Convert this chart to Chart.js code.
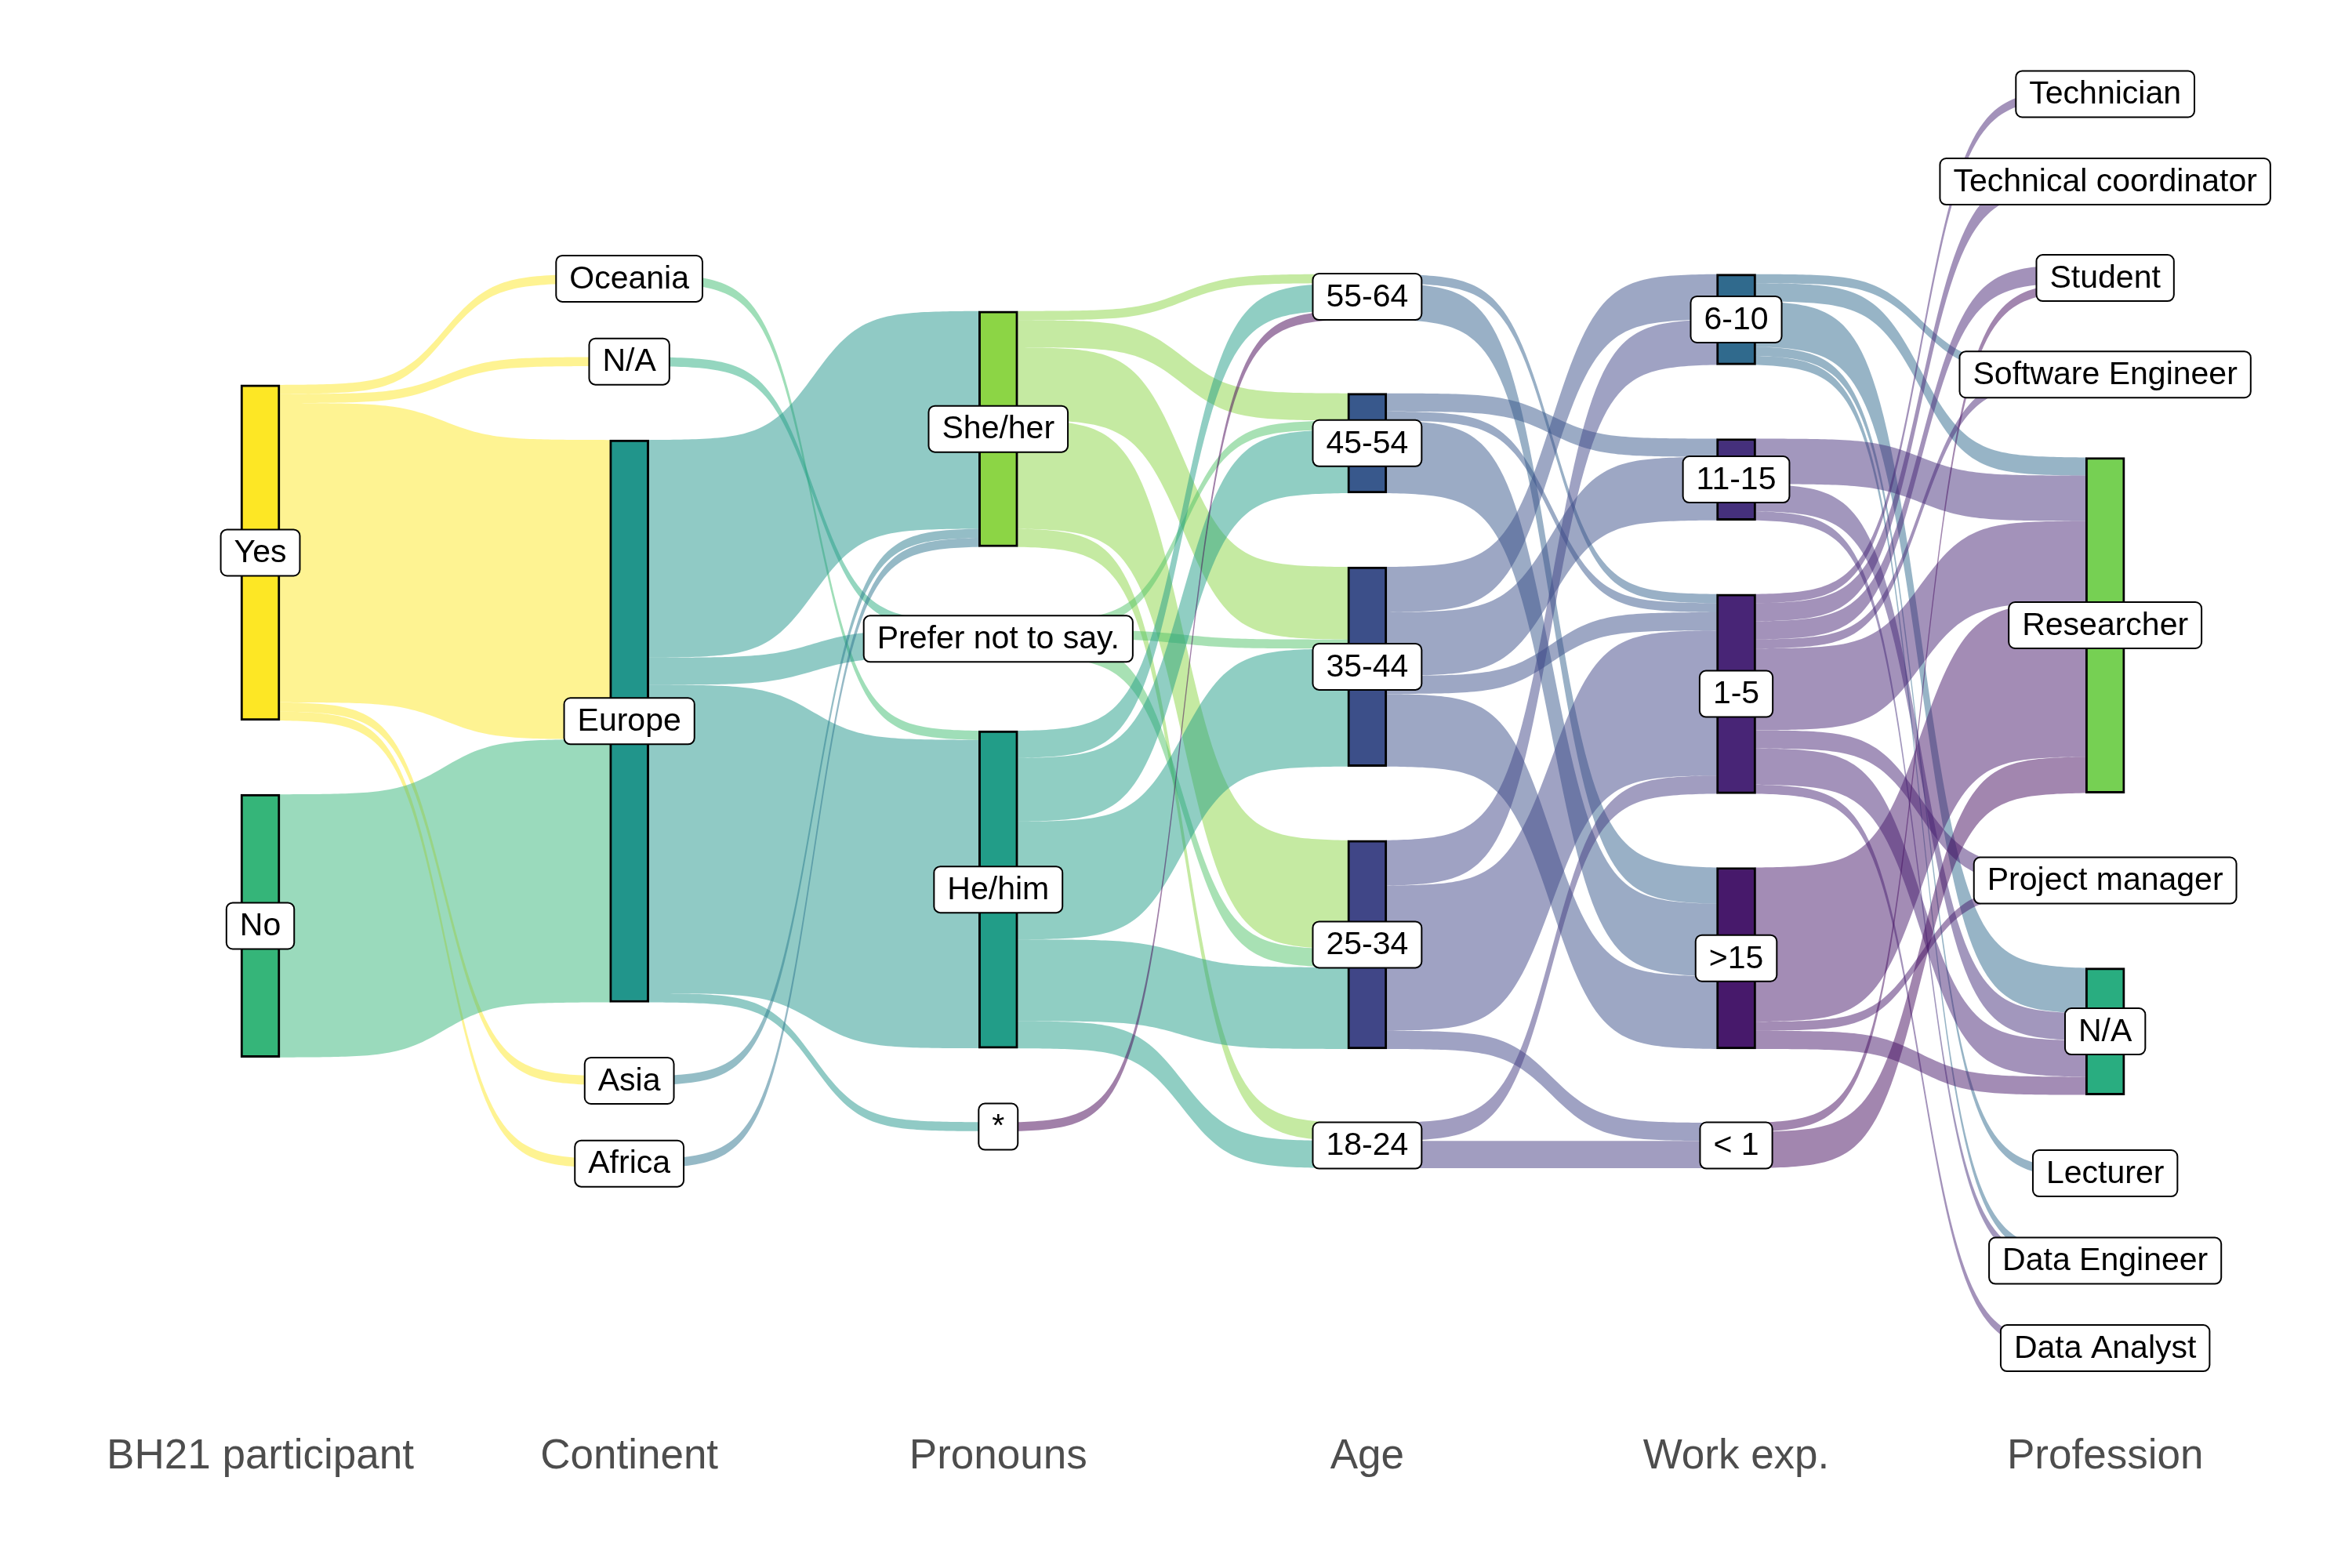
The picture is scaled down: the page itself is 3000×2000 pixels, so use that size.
<!DOCTYPE html>
<html>
<head>
<meta charset="utf-8">
<title>BH21 sankey</title>
<script src="https://cdn.jsdelivr.net/npm/chart.js@4.4.1/dist/chart.umd.min.js"></script>
<style>
    html, body { margin: 0; padding: 0; background: #fff; }
    #wrap { width: 3000px; height: 2000px; }
</style>
</head>
<body>
<div id="wrap"><canvas id="sankey"></canvas></div>
<script>
const axisNames = ["BH21 participant", "Continent", "Pronouns", "Age", "Work exp.", "Profession"];

// nodes of each axis, top to bottom
const participantNodes = ["Yes", "No"];
const continentNodes = ["Oceania", "N/A", "Europe", "Asia", "Africa"];
const pronounNodes = ["She/her", "Prefer not to say.", "He/him", "*"];
const ageNodes = ["55-64", "45-54", "35-44", "25-34", "18-24"];
const workNodes = ["6-10", "11-15", "1-5", ">15", "< 1"];
const professionNodes = ["Technician", "Technical coordinator", "Student", "Software Engineer", "Researcher",
    "Project manager", "N/A", "Lecturer", "Data Engineer", "Data Analyst"];

// people moving from one axis to the next: [from, to, count]
const participantToContinent = [
    ["Yes", "Oceania", 1], ["Yes", "N/A", 1], ["Yes", "Europe", 33], ["Yes", "Asia", 1], ["Yes", "Africa", 1],
    ["No", "Europe", 29]
];
const continentToPronouns = [
    ["Oceania", "He/him", 1],
    ["N/A", "Prefer not to say.", 1],
    ["Europe", "She/her", 24], ["Europe", "Prefer not to say.", 3], ["Europe", "He/him", 34], ["Europe", "*", 1],
    ["Asia", "She/her", 1],
    ["Africa", "She/her", 1]
];
const pronounsToAge = [
    ["She/her", "55-64", 1], ["She/her", "45-54", 3], ["She/her", "35-44", 8], ["She/her", "25-34", 12], ["She/her", "18-24", 2],
    ["Prefer not to say.", "45-54", 1], ["Prefer not to say.", "35-44", 1], ["Prefer not to say.", "25-34", 2],
    ["He/him", "55-64", 3], ["He/him", "45-54", 7], ["He/him", "35-44", 13], ["He/him", "25-34", 9], ["He/him", "18-24", 3],
    ["*", "55-64", 1]
];
const ageToWork = [
    ["55-64", "1-5", 1], ["55-64", ">15", 4],
    ["45-54", "11-15", 2], ["45-54", "1-5", 1], ["45-54", ">15", 8],
    ["35-44", "6-10", 5], ["35-44", "11-15", 7], ["35-44", "1-5", 2], ["35-44", ">15", 8],
    ["25-34", "6-10", 5], ["25-34", "1-5", 16], ["25-34", "< 1", 2],
    ["18-24", "1-5", 2], ["18-24", "< 1", 3]
];
const workToProfession = [
    ["6-10", "Software Engineer", 1], ["6-10", "Researcher", 2], ["6-10", "N/A", 5], ["6-10", "Lecturer", 1], ["6-10", "Data Engineer", 1],
    ["11-15", "Researcher", 5], ["11-15", "N/A", 3], ["11-15", "Data Engineer", 1],
    ["1-5", "Technician", 1], ["1-5", "Technical coordinator", 2], ["1-5", "Student", 2], ["1-5", "Software Engineer", 1],
    ["1-5", "Researcher", 9], ["1-5", "Project manager", 2], ["1-5", "N/A", 4], ["1-5", "Data Analyst", 1],
    [">15", "Researcher", 17], [">15", "Project manager", 1], [">15", "N/A", 2],
    ["< 1", "Student", 1], ["< 1", "Researcher", 4]
];

// factor levels that decide the viridis fill
const fillLevels = ["*", "< 1", ">15", "1-5", "11-15", "18-24", "25-34", "35-44", "45-54", "55-64", "6-10",
    "Africa", "Asia", "Data Analyst", "Data Engineer", "Europe", "He/him", "Lecturer", "N/A", "No", "Oceania",
    "Prefer not to say.", "Project manager", "Researcher", "She/her", "Software Engineer", "Student",
    "Technical coordinator", "Technician", "Yes"];

const columns = [participantNodes, continentNodes, pronounNodes, ageNodes, workNodes, professionNodes];
const links = [participantToContinent, continentToPronouns, pronounsToAge, ageToWork, workToProfession];

const GAP = 8.14;       // space between nodes, in people
const NODE_W = 0.1;     // node width, in axis units
const SMOOTH = 7;
const FONT = "'Liberation Sans', Arial, Helvetica, sans-serif";

// viridis
const viridisStops = ["#440154", "#482475", "#414487", "#355f8d", "#2a788e", "#21918c",
    "#22a884", "#44bf70", "#7ad151", "#bddf26", "#fde725"];
function hexRgb(h) {
    return [parseInt(h.slice(1, 3), 16), parseInt(h.slice(3, 5), 16), parseInt(h.slice(5, 7), 16)];
}
function viridis(t, alpha) {
    const p = t * 10;
    const i = Math.min(9, Math.floor(p));
    const f = p - i;
    const a = hexRgb(viridisStops[i]), b = hexRgb(viridisStops[i + 1]);
    const c = a.map((v, k) => Math.round(v + (b[k] - v) * f));
    return `rgba(${c[0]}, ${c[1]}, ${c[2]}, ${alpha})`;
}
function fillOf(name, alpha) {
    return viridis(fillLevels.indexOf(name) / (fillLevels.length - 1), alpha);
}

// node sizes and stacking (centered on 0, top is negative)
const nodePos = columns.map((nodes, c) => {
    const size = {};
    nodes.forEach(n => {
        let inSum = 0, outSum = 0;
        if (c > 0) links[c - 1].forEach(l => { if (l[1] === n) inSum += l[2]; });
        if (c < links.length) links[c].forEach(l => { if (l[0] === n) outSum += l[2]; });
        size[n] = Math.max(inSum, outSum);
    });
    const total = nodes.reduce((s, n) => s + size[n], 0) + GAP * (nodes.length - 1);
    let y = -total / 2;
    const pos = {};
    nodes.forEach(n => {
        pos[n] = { top: y, bottom: y + size[n] };
        y += size[n] + GAP;
    });
    return pos;
});

// flow bands
const flows = [];
links.forEach((set, c) => {
    const src = columns[c], tgt = columns[c + 1];
    const items = set.map(l => ({ c: c, from: l[0], to: l[1], n: l[2] }));
    const outOff = {}, inOff = {};
    [...items].sort((a, b) => src.indexOf(a.from) - src.indexOf(b.from) || tgt.indexOf(a.to) - tgt.indexOf(b.to))
        .forEach(f => {
            const o = outOff[f.from] || 0;
            f.y0 = nodePos[c][f.from].top + o;
            outOff[f.from] = o + f.n;
        });
    [...items].sort((a, b) => tgt.indexOf(a.to) - tgt.indexOf(b.to) || src.indexOf(a.from) - src.indexOf(b.from))
        .forEach(f => {
            const o = inOff[f.to] || 0;
            f.y1 = nodePos[c + 1][f.to].top + o;
            inOff[f.to] = o + f.n;
        });
    items.forEach(f => flows.push(f));
});

// node bars
const nodeBars = [], nodeFill = [], nodeNames = [];
columns.forEach((nodes, c) => {
    nodes.forEach(n => {
        nodeBars.push({ x: c + 1, y: [nodePos[c][n].top, nodePos[c][n].bottom] });
        nodeFill.push(fillOf(n, 1));
        nodeNames.push(n);
    });
});

function sig(t) {
    const s = v => 1 / (1 + Math.exp(-(2 * v - 1) * SMOOTH));
    return (s(t) - s(0)) / (s(1) - s(0));
}

const flowPlugin = {
    id: "flows",
    beforeDatasetsDraw(chart) {
        const ctx = chart.ctx;
        const xs = chart.scales.x, ys = chart.scales.y;
        const steps = 90;
        ctx.save();
        flows.forEach(f => {
            const xa = xs.getPixelForValue(f.c + 1 + NODE_W / 2);
            const xb = xs.getPixelForValue(f.c + 2 - NODE_W / 2);
            ctx.beginPath();
            for (let i = 0; i <= steps; i++) {
                const t = i / steps;
                const y = f.y0 + (f.y1 - f.y0) * sig(t);
                const px = xa + (xb - xa) * t;
                if (i === 0) ctx.moveTo(px, ys.getPixelForValue(y));
                else ctx.lineTo(px, ys.getPixelForValue(y));
            }
            for (let i = steps; i >= 0; i--) {
                const t = i / steps;
                const y = f.y0 + f.n + (f.y1 - f.y0) * sig(t);
                ctx.lineTo(xa + (xb - xa) * t, ys.getPixelForValue(y));
            }
            ctx.closePath();
            ctx.fillStyle = fillOf(f.from, 0.5);
            ctx.fill();
        });
        ctx.restore();
    }
};

function roundRect(ctx, x, y, w, h, r) {
    ctx.beginPath();
    ctx.moveTo(x + r, y);
    ctx.lineTo(x + w - r, y);
    ctx.arcTo(x + w, y, x + w, y + r, r);
    ctx.lineTo(x + w, y + h - r);
    ctx.arcTo(x + w, y + h, x + w - r, y + h, r);
    ctx.lineTo(x + r, y + h);
    ctx.arcTo(x, y + h, x, y + h - r, r);
    ctx.lineTo(x, y + r);
    ctx.arcTo(x, y, x + r, y, r);
    ctx.closePath();
}

const labelPlugin = {
    id: "nodeLabels",
    afterDatasetsDraw(chart) {
        const ctx = chart.ctx;
        const xs = chart.scales.x, ys = chart.scales.y;
        ctx.save();
        ctx.font = `41px ${FONT}`;
        ctx.textAlign = "center";
        ctx.textBaseline = "middle";
        columns.forEach((nodes, c) => {
            nodes.forEach(n => {
                const p = nodePos[c][n];
                const cx = xs.getPixelForValue(c + 1);
                const cy = ys.getPixelForValue((p.top + p.bottom) / 2);
                const w = ctx.measureText(n).width + 34;
                const h = 59;
                roundRect(ctx, cx - w / 2, cy - h / 2, w, h, 8);
                ctx.fillStyle = "#fff";
                ctx.fill();
                ctx.lineWidth = 2;
                ctx.strokeStyle = "#000";
                ctx.stroke();
                ctx.fillStyle = "#000";
                ctx.fillText(n, cx, cy + 1);
            });
        });
        ctx.restore();
    }
};

const config = {
    type: "bar",
    data: {
        datasets: [{
            data: nodeBars,
            backgroundColor: nodeFill,
            borderColor: "#000",
            borderWidth: 3,
            borderSkipped: false,
            barThickness: 50,
            grouped: false
        }]
    },
    options: {
        responsive: true,
        maintainAspectRatio: false,
        animation: false,
        layout: { padding: { left: 0, right: 0, top: 0, bottom: 107 } },
        plugins: {
            legend: { display: false },
            tooltip: { enabled: false }
        },
        scales: {
            x: {
                type: "linear",
                min: 0.2945,
                max: 6.669,
                offset: false,
                grid: { display: false, drawTicks: false },
                border: { display: false },
                afterBuildTicks: scale => {
                    scale.ticks = axisNames.map((_, i) => ({ value: i + 1 }));
                },
                ticks: {
                    autoSkip: false,
                    maxRotation: 0,
                    padding: 3,
                    color: "#4d4d4d",
                    font: { family: FONT, size: 53 },
                    callback: v => axisNames[v - 1]
                }
            },
            y: {
                type: "linear",
                display: false,
                reverse: true,
                min: -79.5,
                max: 78.1
            }
        }
    },
    plugins: [flowPlugin, labelPlugin]
};

const sankeyChart = new Chart(document.getElementById("sankey"), config);
</script>
</body>
</html>
